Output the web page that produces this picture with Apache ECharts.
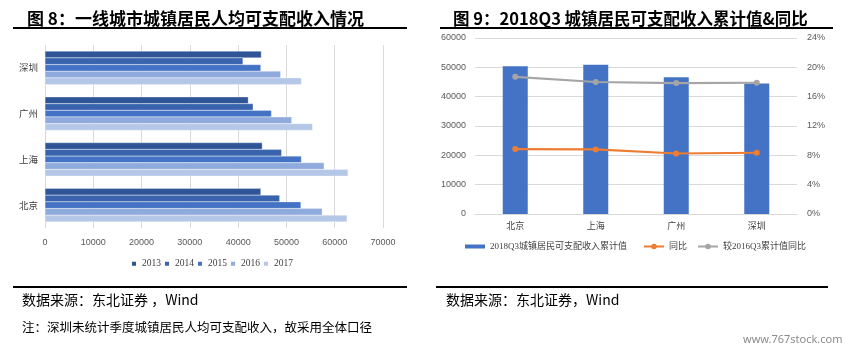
<!DOCTYPE html>
<html lang="zh">
<head>
    <meta charset="UTF-8">
    <title>一线城市城镇居民收入</title>
    <script src="https://cdn.jsdelivr.net/npm/echarts@6/dist/echarts.min.js"></script>
    <style>
        html, body { margin: 0; padding: 0; background: #fff; }
    </style>
</head>
<body>
<div id="main" style="width: 851px;height: 353px"></div>
<script>
    // 图8 数据
    let cities = ['北京', '上海', '广州', '深圳']
    let years = ['2013', '2014', '2015', '2016', '2017']
    let income2013 = [44700, 45000, 42100, 44800]
    let income2014 = [48600, 49000, 43100, 41000]
    let income2015 = [53000, 53100, 46900, 44700]
    let income2016 = [57400, 57800, 51100, 48800]
    let income2017 = [62550, 62750, 55400, 53100]
    let yearColors = ['#2F5597', '#3A63AE', '#4472C4', '#8FAADC', '#B4C7E7']

    // 图9 数据
    let q3Cities = ['北京', '上海', '广州', '深圳']
    let q3Total = [50400, 50900, 46600, 44500]
    let q3Yoy = [8.85, 8.8, 8.25, 8.35]
    let q3Vs2016 = [18.7, 18.0, 17.85, 17.9]

    let cjk = "'Noto Sans CJK SC', sans-serif"
    let serif = "'Liberation Serif', 'Noto Sans CJK SC', serif"

    var chartDom = document.getElementById('main');
    var myChart = echarts.init(chartDom);
    var option;

    // 不要千分位
    function plainNum(v) {
        return String(v)
    }

    let yearData = [income2013, income2014, income2015, income2016, income2017]
    let leftSeries = years.map(function (y, i) {
        return {
            name: y,
            type: 'bar',
            xAxisIndex: 0,
            yAxisIndex: 0,
            barGap: '0%',
            barCategoryGap: '27%',
            itemStyle: { color: yearColors[i], borderColor: '#fff', borderWidth: 0.3 },
            data: yearData[i]
        }
    })

    option = {
        backgroundColor: '#fff',
        animation: false,
        title: [
            {
                text: '图 8：一线城市城镇居民人均可支配收入情况',
                left: 22, top: 5,
                textStyle: { fontFamily: cjk, fontSize: 17, fontWeight: 'bold', color: '#000' }
            },
            {
                text: '图 9：2018Q3 城镇居民可支配收入累计值&同比',
                left: 448, top: 5,
                textStyle: { fontFamily: cjk, fontSize: 16.5, fontWeight: 'bold', color: '#000' }
            }
        ],
        legend: [
            {
                data: years,
                left: 130, top: 259, padding: 0,
                icon: 'rect', itemWidth: 6, itemHeight: 6, itemGap: 2,
                textStyle: { fontFamily: serif, fontSize: 9.5, color: '#404040' }
            },
            {
                data: ['2018Q3城镇居民可支配收入累计值'],
                left: 465, top: 242, padding: 0,
                icon: 'rect', itemWidth: 20, itemHeight: 4,
                textStyle: { fontFamily: serif, fontSize: 9, color: '#404040' }
            },
            {
                data: ['同比', '较2016Q3累计值同比'],
                left: 643, top: 242, padding: 0,
                itemWidth: 20, itemHeight: 7, itemGap: 10,
                textStyle: { fontFamily: serif, fontSize: 9, color: '#404040' }
            }
        ],
        grid: [
            { left: 45, right: 468, top: 45, bottom: 125 },
            { left: 475, right: 54, top: 38, bottom: 139 }
        ],
        xAxis: [
            {
                gridIndex: 0, type: 'value', min: 0, max: 70000, interval: 10000,
                axisLine: { show: false }, axisTick: { show: false },
                splitLine: { lineStyle: { color: '#D9D9D9' } },
                axisLabel: { fontSize: 9, color: '#595959', margin: 10, formatter: plainNum }
            },
            {
                gridIndex: 1, type: 'category', data: q3Cities,
                axisLine: { lineStyle: { color: '#D9D9D9' } }, axisTick: { show: false },
                axisLabel: { fontFamily: cjk, fontSize: 9, color: '#404040', margin: 7 }
            }
        ],
        yAxis: [
            {
                gridIndex: 0, type: 'category', data: cities,
                axisLine: { show: false }, axisTick: { show: false },
                axisLabel: { fontFamily: cjk, fontSize: 9.5, color: '#404040', margin: 7 }
            },
            {
                gridIndex: 1, type: 'value', min: 0, max: 60000, interval: 10000,
                axisLine: { show: false }, axisTick: { show: false },
                splitLine: { lineStyle: { color: '#D9D9D9' } },
                axisLabel: { fontSize: 9, color: '#595959', margin: 9, formatter: plainNum }
            },
            {
                gridIndex: 1, type: 'value', min: 0, max: 24, interval: 4, position: 'right',
                axisLine: { show: false }, axisTick: { show: false },
                splitLine: { show: false },
                axisLabel: { fontSize: 9, color: '#595959', margin: 10, formatter: '{value}%' }
            }
        ],
        series: leftSeries.concat([
            {
                name: '2018Q3城镇居民可支配收入累计值',
                type: 'bar', xAxisIndex: 1, yAxisIndex: 1,
                barWidth: 25,
                itemStyle: { color: '#4472C4' },
                data: q3Total
            },
            {
                name: '同比',
                type: 'line', xAxisIndex: 1, yAxisIndex: 2,
                symbol: 'circle', symbolSize: 6,
                lineStyle: { color: '#ED7D31', width: 2.2 },
                itemStyle: { color: '#ED7D31' },
                data: q3Yoy
            },
            {
                name: '较2016Q3累计值同比',
                type: 'line', xAxisIndex: 1, yAxisIndex: 2,
                symbol: 'circle', symbolSize: 6,
                lineStyle: { color: '#A5A5A5', width: 2.2 },
                itemStyle: { color: '#A5A5A5' },
                data: q3Vs2016
            }
        ]),
        graphic: [
            // 标题下、来源上的黑线
            { type: 'rect', shape: { x: 13, y: 27, width: 394, height: 2 }, style: { fill: '#000' } },
            { type: 'rect', shape: { x: 440, y: 27, width: 393, height: 2 }, style: { fill: '#000' } },
            { type: 'rect', shape: { x: 13, y: 286, width: 394, height: 2 }, style: { fill: '#000' } },
            { type: 'rect', shape: { x: 436, y: 286, width: 392, height: 2 }, style: { fill: '#000' } },
            {
                type: 'text', left: 22, top: 293,
                style: { text: '数据来源：东北证券 ，Wind', font: "14px 'Noto Sans CJK SC'", fill: '#000' }
            },
            {
                type: 'text', left: 22, top: 321,
                style: { text: '注：深圳未统计季度城镇居民人均可支配收入，故采用全体口径', font: "12.5px 'Noto Sans CJK SC'", fill: '#000' }
            },
            {
                type: 'text', left: 446, top: 293,
                style: { text: '数据来源：东北证券，Wind', font: "14px 'Noto Sans CJK SC'", fill: '#000' }
            },
            {
                type: 'text', left: 743, top: 334,
                style: { text: 'www.767stock.com', font: "11px 'Noto Sans'", fill: '#8c8c8c' }
            }
        ]
    };
    option && myChart.setOption(option);
</script>
</body>
</html>
